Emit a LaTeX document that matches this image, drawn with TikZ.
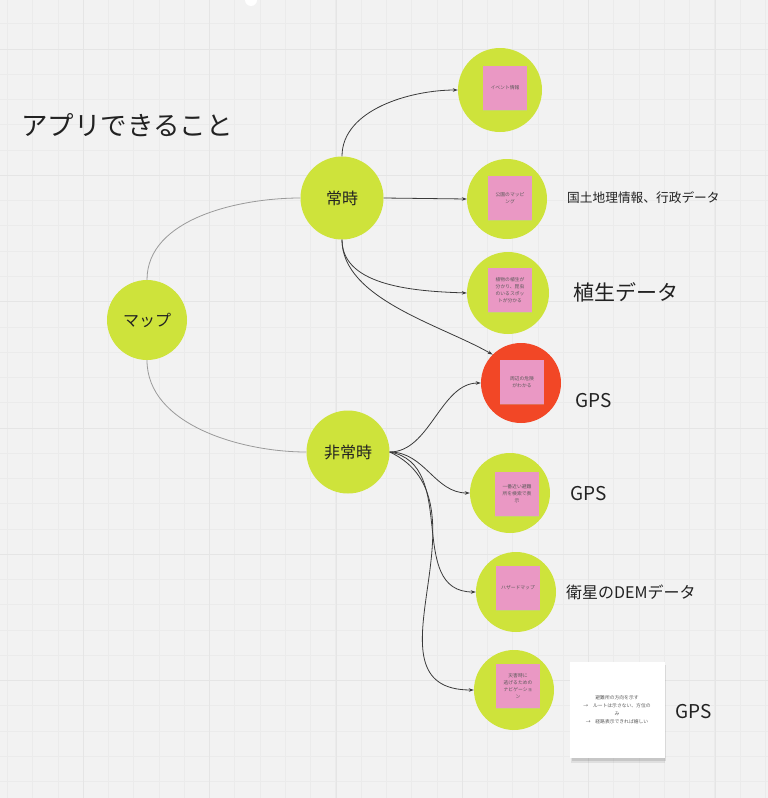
\documentclass[tikz,border=0pt]{standalone}
\usepackage{fontspec}
\setmainfont{Noto Sans CJK JP}
\usetikzlibrary{arrows.meta}
\definecolor{bg}{HTML}{F2F2F2}
\definecolor{gridminor}{HTML}{EBEBEB}
\definecolor{gridmajor}{HTML}{E5E5E5}
\definecolor{lime}{HTML}{CEE33B}
\definecolor{redc}{HTML}{F24726}
\definecolor{pinkn}{HTML}{EA98C4}
\definecolor{inkc}{HTML}{222222}
\definecolor{linec}{HTML}{3A3A3A}
\definecolor{greyline}{HTML}{9A9A9A}
\tikzset{
  x=1pt,y=-1pt,
  bubble/.style={circle,fill=lime,draw=none,minimum size=#1,inner sep=0pt,font=\fontsize{16}{18}\selectfont,text=inkc},
  redbubble/.style={circle,fill=redc,draw=none,minimum size=80,inner sep=0pt},
  sticky/.style={fill=pinkn,draw=none,minimum width=44,minimum height=44,inner sep=1pt,align=center,font=\fontsize{4.8}{7}\selectfont,text=inkc!75,
     preaction={fill=black!25,opacity=0.35,transform canvas={yshift=-1.2pt}}},
  conn/.style={draw=linec,line width=0.8pt,-{Stealth[length=5pt,width=3.5pt]}},
  soft/.style={draw=greyline,line width=0.8pt},
  lbl/.style={text=inkc,inner sep=0pt,anchor=west}
}
\begin{document}
\begin{tikzpicture}
\fill[bg] (0,0) rectangle (768,798);
\useasboundingbox (0,0) rectangle (768,798);
% grid
\foreach \i in {0,...,31} {
  \draw[gridminor,line width=0.4pt] ({7.3+25.26*\i},0) -- ({7.3+25.26*\i},798);
  \draw[gridminor,line width=0.4pt] (0,{23.6+25.26*\i}) -- (768,{23.6+25.26*\i});
}
\foreach \i in {0,...,6} {
  \draw[gridmajor,line width=0.6pt] ({83.3+126.3*\i-126.3},0) -- ({83.3+126.3*\i-126.3},798);
  \draw[gridmajor,line width=0.6pt] (0,{49+126.3*\i}) -- (768,{49+126.3*\i});
}
\fill[white] (251,0) circle (6);

% title
\node[lbl,font=\fontsize{26.5}{28}\selectfont] (title) at (21,125) {アプリできること};

% main bubbles
\node[bubble=80] (map) at (147,320) {マップ};
\node[bubble=83] (jo) at (342,198) {常時};
\node[bubble=83] (hi) at (348,452) {非常時};

% right bubbles
\node[bubble=84] (c1) at (500,90) {};
\node[bubble=80] (c2) at (507,199) {};
\node[bubble=82] (c3) at (508,293) {};
\node[redbubble] (c4) at (521,383) {};
\node[bubble=80] (c5) at (510,493) {};
\node[bubble=80] (c6) at (516,592) {};
\node[bubble=80] (c7) at (514,690) {};

% sticky notes
\node[sticky] (n1) at (505,88) {イベント情報};
\node[sticky] (n2) at (510,198) {公園のマッピ\\ング};
\node[sticky] (n3) at (510,290) {植物の植生が\\分かり、昆虫\\のいるスポッ\\トが分かる};
\node[sticky] (n4) at (522,382) {周辺の危険\\がわかる};
\node[sticky] (n5) at (517,494) {一番近い避難\\所を検索で表\\示};
\node[sticky] (n6) at (518,588) {ハザードマップ};
\node[sticky] (n7) at (518,686) {災害時に\\逃げるための\\ナビゲーショ\\ン};

% white card
\fill[black,opacity=0.10] (572,665) rectangle (666,761);
\fill[black,opacity=0.08] (571,663) rectangle (665,763);
\node[fill=white,draw=none,minimum width=95,minimum height=96,inner sep=0pt] (card) at (617,710) {};
\node[align=center,font=\fontsize{4.8}{8}\selectfont,text=inkc!75,inner sep=0pt] (cardtext) at (617,710) {避難所の方向を示す\\→\quad ルートは示さない、方位の\\み\\→\quad 経路表示できれば嬉しい};

% labels
\node[lbl,font=\fontsize{12.7}{14}\selectfont] (l2) at (567,198) {国土地理情報、行政データ};
\node[lbl,font=\fontsize{21}{22}\selectfont] (l3) at (573,292) {植生データ};
\node[lbl,font=\fontsize{19}{22}\selectfont] (l4) at (575,401) {GPS};
\node[lbl,font=\fontsize{19}{22}\selectfont] (l5) at (570,494) {GPS};
\node[lbl,font=\fontsize{16}{18}\selectfont] (l6) at (566,592) {衛星のDEMデータ};
\node[lbl,font=\fontsize{19}{22}\selectfont] (l7) at (675,712) {GPS};

% connectors from map
\draw[soft] (map.north) to[out=90,in=180,looseness=0.9] (jo.west);
\draw[soft] (map.south) to[out=-90,in=180,looseness=0.9] (hi.west);

% connectors from jo
\draw[conn] (jo.north) to[out=90,in=180,looseness=0.9] (c1.west);
\draw[conn] (jo.east) -- (c2.west);
\draw[conn] (jo.south) to[out=-90,in=178,looseness=0.9] (c3.west);
\draw[conn] (jo.south) to[out=-90,in=150,looseness=0.8] (c4.north west);

% connectors from hi
\coordinate (hs) at (hi.east);
\draw[conn] (hs) to[out=0,in=180,looseness=0.9] (c4.west);
\draw[conn] (hs) to[out=0,in=180,looseness=1] (c5.west);
\draw[conn] (hs) to[out=-10,in=180,looseness=1.1] (c6.west);
\draw[conn] (hs) to[out=-25,in=180,looseness=1.2] (c7.west);
\end{tikzpicture}
\end{document}
